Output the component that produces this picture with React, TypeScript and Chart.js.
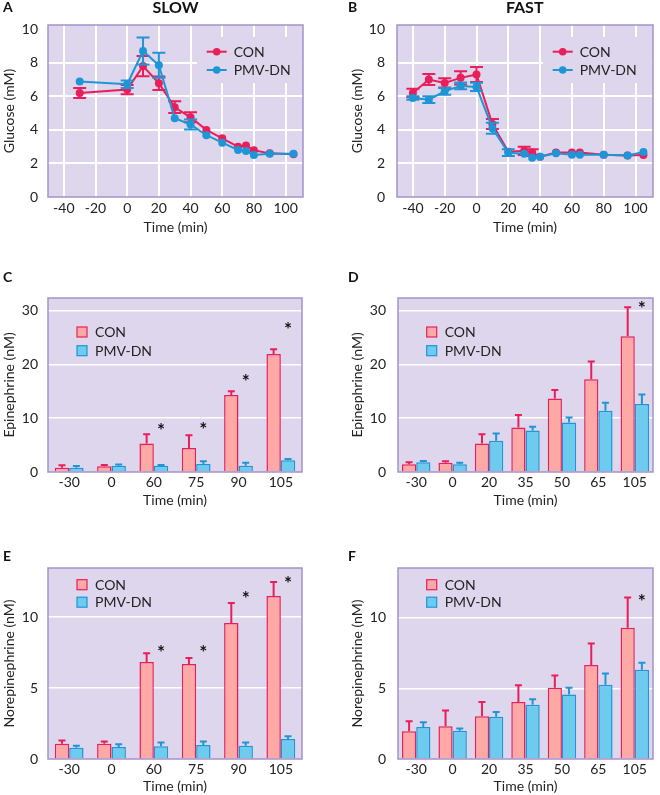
import React, { useEffect, useRef } from 'react';
import { Chart, registerables } from 'chart.js';
Chart.register(...registerables);

// ---------------- DATA ----------------
const slowGlucoseTimes = [-30, 0, 10, 20, 30, 40, 50, 60, 70, 75, 80, 90, 105];
const slowGlucoseCon = [6.2, 6.4, 7.8, 6.78, 5.35, 4.75, 4.0, 3.5, 3.0, 3.07, 2.78, 2.6, 2.55];
const slowGlucoseConErr = [0.3, 0.27, 0.6, 0.4, 0.35, 0.3, 0, 0, 0, 0, 0, 0, 0];
const slowGlucosePmv = [6.88, 6.72, 8.7, 7.85, 4.7, 4.32, 3.68, 3.24, 2.8, 2.74, 2.5, 2.58, 2.58];
const slowGlucosePmvErr = [0, 0.22, 0.8, 0.75, 0, 0.3, 0, 0, 0, 0, 0, 0, 0];

const fastGlucoseTimes = [-40, -30, -20, -10, 0, 10, 20, 30, 35, 40, 50, 60, 65, 80, 95, 105];
const fastGlucoseCon = [6.2, 7.0, 6.8, 7.1, 7.3, 4.35, 2.7, 2.75, 2.65, 2.4, 2.65, 2.65, 2.65, 2.52, 2.48, 2.5];
const fastGlucoseConErr = [0.25, 0.33, 0.27, 0.4, 0.45, 0.3, 0, 0.25, 0.2, 0, 0, 0, 0, 0, 0, 0];
const fastGlucosePmv = [5.9, 5.8, 6.3, 6.62, 6.56, 4.1, 2.64, 2.58, 2.34, 2.4, 2.6, 2.52, 2.52, 2.52, 2.48, 2.68];
const fastGlucosePmvErr = [0.1, 0.2, 0.2, 0.2, 0.25, 0.33, 0.2, 0, 0, 0, 0, 0, 0, 0, 0, 0];

const glucoseTicks = [0, 2, 4, 6, 8, 10];
const timeTicks = [-40, -20, 0, 20, 40, 60, 80, 100];

const slowCats = ['-30', '0', '60', '75', '90', '105'];
const fastCats = ['-30', '0', '20', '35', '50', '65', '105'];

const epiSlowCon = [0.8, 1.06, 5.28, 4.47, 14.3, 21.9];
const epiSlowConErr = [0.44, 0.24, 1.72, 2.36, 0.7, 0.9];
const epiSlowPmv = [0.8, 1.18, 1.18, 1.5, 1.18, 2.17];
const epiSlowPmvErr = [0.3, 0.19, 0.12, 0.5, 0.56, 0.25];
const epiSlowStars = [null, null, 8.4, 8.6, 17.5, 27.3];

const epiFastCon = [1.43, 1.74, 5.28, 8.26, 13.66, 17.2, 25.2];
const epiFastConErr = [0.37, 0.26, 1.72, 2.3, 1.54, 3.3, 5.4];
const epiFastPmv = [1.8, 1.43, 5.78, 7.7, 9.2, 11.37, 12.6];
const epiFastPmvErr = [0.25, 0.31, 1.36, 0.7, 0.9, 1.49, 1.8];
const epiFastStars = [null, null, null, null, null, null, 31.1];

const norSlowCon = [1.08, 1.08, 6.83, 6.69, 9.58, 11.48];
const norSlowConErr = [0.23, 0.16, 0.61, 0.42, 1.41, 0.98];
const norSlowPmv = [0.8, 0.85, 0.89, 0.99, 0.94, 1.41];
const norSlowPmvErr = [0.14, 0.18, 0.28, 0.25, 0.23, 0.19];
const norSlowStars = [null, null, 7.82, 7.82, 11.57, 12.68];

const norFastCon = [1.96, 2.32, 3.03, 4.02, 5.04, 6.64, 9.27];
const norFastConErr = [0.71, 1.11, 0.99, 1.2, 0.87, 1.52, 2.15];
const norFastPmv = [2.27, 1.99, 2.98, 3.83, 4.56, 5.25, 6.31];
const norFastPmvErr = [0.33, 0.16, 0.35, 0.4, 0.48, 0.8, 0.5];
const norFastStars = [null, null, null, null, null, null, 11.42];

const epiTicks = [0, 10, 20, 30];
const norTicks = [0, 5, 10];

// ---------------- STYLE ----------------
const TEXT = '#222222';
const RED = '#e91e5a';
const BLUE = '#1e96d6';
const RED_FILL = '#fea9a6';
const BLUE_FILL = '#6ccbef';
const PLOT_BG = '#ddd6ec';
const FRAME = '#a592c8';
const FAMILY = 'Lato, "Noto Sans", sans-serif';
const FS = 14;

Chart.defaults.font.family = FAMILY;

function framePlugin() {
  return {
    id: 'frame',
    beforeDraw(chart: any) {
      const { ctx, chartArea: a } = chart;
      ctx.save();
      ctx.fillStyle = PLOT_BG;
      ctx.fillRect(a.left, a.top, a.right - a.left, a.bottom - a.top);
      ctx.restore();
    },
    afterDraw(chart: any) {
      const { ctx, chartArea: a } = chart;
      ctx.save();
      ctx.strokeStyle = FRAME;
      ctx.lineWidth = 1.5;
      ctx.strokeRect(a.left, a.top, a.right - a.left, a.bottom - a.top);
      ctx.restore();
    },
  };
}

function errorBarPlugin() {
  return {
    id: 'errorBars',
    afterDatasetDraw(chart: any, args: any) {
      const ds: any = chart.data.datasets[args.index];
      if (!ds.errors) return;
      const meta = args.meta;
      const yScale = chart.scales[meta.yAxisID];
      const ctx = chart.ctx;
      ctx.save();
      ctx.strokeStyle = ds.borderColor;
      ctx.lineWidth = 2;
      meta.data.forEach((el: any, i: number) => {
        const e = ds.errors[i];
        if (!e) return;
        const v = ds.means[i];
        const x = el.x;
        const yTop = yScale.getPixelForValue(v + e);
        const yBot = ds.twoSided ? yScale.getPixelForValue(v - e) : el.y;
        const hw = ds.capHalf;
        ctx.beginPath();
        ctx.moveTo(x, yBot);
        ctx.lineTo(x, yTop);
        ctx.moveTo(x - hw, yTop);
        ctx.lineTo(x + hw, yTop);
        if (ds.twoSided) {
          ctx.moveTo(x - hw, yBot);
          ctx.lineTo(x + hw, yBot);
        }
        ctx.stroke();
      });
      ctx.restore();
    },
  };
}

function starPlugin(stars: (number | null)[]) {
  return {
    id: 'stars',
    afterDatasetsDraw(chart: any) {
      const meta = chart.getDatasetMeta(1);
      const yScale = chart.scales.y;
      const ctx = chart.ctx;
      ctx.save();
      ctx.fillStyle = '#111';
      ctx.font = `bold 19px ${FAMILY}`;
      ctx.textAlign = 'center';
      ctx.textBaseline = 'middle';
      stars.forEach((s, i) => {
        if (s == null) return;
        const el = meta.data[i];
        ctx.fillText('*', el.x, yScale.getPixelForValue(s) + 4.5);
      });
      ctx.restore();
    },
  };
}

function legendPlugin(kind: 'line' | 'box', dx: number, dy: number, row: number, bg?: number[]) {
  return {
    id: 'panelLegend',
    beforeDatasetsDraw(chart: any) {
      if (!bg) return;
      const { ctx, chartArea: a } = chart;
      ctx.save();
      ctx.fillStyle = PLOT_BG;
      ctx.fillRect(a.left + bg[0], a.top + bg[1], a.right - (a.left + bg[0]) - 1, bg[2]);
      ctx.restore();
    },
    afterDatasetsDraw(chart: any) {
      const { ctx, chartArea: a } = chart;
      ctx.save();
      ctx.font = `${FS}px ${FAMILY}`;
      ctx.textBaseline = 'middle';
      ctx.textAlign = 'left';
      chart.data.datasets.forEach((ds: any, i: number) => {
        const x0 = a.left + dx;
        const y = a.top + dy + i * row;
        if (kind === 'line') {
          ctx.strokeStyle = ds.borderColor;
          ctx.lineWidth = 2;
          ctx.beginPath();
          ctx.moveTo(x0, y);
          ctx.lineTo(x0 + 20, y);
          ctx.stroke();
          ctx.fillStyle = ds.borderColor;
          ctx.beginPath();
          ctx.arc(x0 + 10, y, 3.8, 0, Math.PI * 2);
          ctx.fill();
          ctx.fillStyle = TEXT;
          ctx.fillText(ds.label, x0 + 27, y + 0.5);
        } else {
          ctx.fillStyle = ds.backgroundColor;
          ctx.fillRect(x0, y - 5, 10, 10);
          ctx.strokeStyle = ds.borderColor;
          ctx.lineWidth = 1.2;
          ctx.strokeRect(x0, y - 5, 10, 10);
          ctx.fillStyle = TEXT;
          ctx.fillText(ds.label, x0 + 18, y + 0.5);
        }
      });
      ctx.restore();
    },
  };
}

type Box = {
  yW: number; xH: number; padTop: number; padRight: number;
  yTitlePad: number; yTickPad: number; xTitlePad: number; xTickPad: number;
};

function scalesFor(box: Box, yTitle: string, yMax: number, yTicks: number[], lineGrid: boolean) {
  const tickFont = { size: FS, family: FAMILY };
  const yGrid = {
    drawTicks: false,
    lineWidth: lineGrid ? 2 : 1.5,
    color: (c: any) => (c.tick && c.tick.value > 0 && c.tick.value < (lineGrid ? 9.9 : yMax) ? '#ffffff' : 'rgba(0,0,0,0)'),
  };
  return {
    y: {
      min: 0,
      max: yMax,
      afterBuildTicks: (axis: any) => { axis.ticks = yTicks.map((v) => ({ value: v })); },
      afterFit: (s: any) => { s.width = box.yW; },
      grid: yGrid,
      border: { display: false },
      ticks: { font: tickFont, color: TEXT, padding: box.yTickPad },
      title: {
        display: true, text: yTitle, color: TEXT,
        font: { size: FS, family: FAMILY }, padding: { top: box.yTitlePad, bottom: 0 },
      },
    },
  };
}

function lineConfig(times: number[], con: number[], conErr: number[], pmv: number[], pmvErr: number[],
  box: Box, legend: any) {
  const s: any = scalesFor(box, 'Glucose (mM)', 10.25, glucoseTicks, true);
  s.x = {
    type: 'linear',
    min: -50,
    max: 111,
    afterBuildTicks: (axis: any) => { axis.ticks = timeTicks.map((v) => ({ value: v })); },
    afterFit: (sc: any) => { sc.height = box.xH; },
    grid: { drawTicks: false, lineWidth: 2, color: '#ffffff' },
    border: { display: false },
    ticks: { font: { size: FS, family: FAMILY }, color: TEXT, padding: box.xTickPad, maxRotation: 0 },
    title: {
      display: true, text: 'Time (min)', color: TEXT,
      font: { size: FS, family: FAMILY }, padding: { top: 0, bottom: box.xTitlePad },
    },
  };
  const mk = (label: string, vals: number[], errs: number[], color: string, order: number) => ({
    label,
    data: times.map((t, i) => ({ x: t, y: vals[i] })),
    means: vals,
    errors: errs,
    twoSided: true,
    capHalf: 6.5,
    borderColor: color,
    backgroundColor: color,
    borderWidth: 2,
    pointRadius: 4,
    pointBorderWidth: 0,
    pointBackgroundColor: color,
    tension: 0,
    order,
  });
  return {
    type: 'line',
    data: {
      datasets: [
        mk('CON', con, conErr, RED, 2),
        mk('PMV-DN', pmv, pmvErr, BLUE, 1),
      ],
    },
    options: {
      responsive: false,
      animation: false,
      events: [],
      layout: { padding: { top: box.padTop, right: box.padRight, bottom: 0, left: 0 } },
      plugins: { legend: { display: false }, tooltip: { enabled: false }, title: { display: false } },
      scales: s,
    },
    plugins: [framePlugin(), errorBarPlugin(), legend],
  };
}

function barConfig(cats: string[], con: number[], conErr: number[], pmv: number[], pmvErr: number[],
  stars: (number | null)[], yTitle: string, yMax: number, yTicks: number[], catPct: number, box: Box, legend: any) {
  const s: any = scalesFor(box, yTitle, yMax, yTicks, false);
  s.x = {
    type: 'category',
    offset: true,
    afterFit: (sc: any) => { sc.height = box.xH; },
    grid: { display: false, drawTicks: false },
    border: { display: false },
    ticks: { font: { size: FS, family: FAMILY }, color: TEXT, padding: box.xTickPad, maxRotation: 0, autoSkip: false },
    title: {
      display: true, text: 'Time (min)', color: TEXT,
      font: { size: FS, family: FAMILY }, padding: { top: 0, bottom: box.xTitlePad },
    },
  };
  const mk = (label: string, vals: number[], errs: number[], color: string, fill: string) => ({
    label,
    data: vals,
    means: vals,
    errors: errs,
    twoSided: false,
    capHalf: 3.5,
    borderColor: color,
    backgroundColor: fill,
    borderWidth: 1.5,
    categoryPercentage: catPct,
    barPercentage: 1,
  });
  return {
    type: 'bar',
    data: {
      labels: cats,
      datasets: [
        mk('CON', con, conErr, RED, RED_FILL),
        mk('PMV-DN', pmv, pmvErr, BLUE, BLUE_FILL),
      ],
    },
    options: {
      responsive: false,
      animation: false,
      events: [],
      layout: { padding: { top: box.padTop, right: box.padRight, bottom: 0, left: 0 } },
      plugins: { legend: { display: false }, tooltip: { enabled: false }, title: { display: false } },
      scales: s,
    },
    plugins: [framePlugin(), errorBarPlugin(), starPlugin(stars), legend],
  };
}

const boxA: Box = { yW: 48, xH: 48, padTop: 25, padRight: 27, yTitlePad: 0.8, yTickPad: 10, xTitlePad: 9.6, xTickPad: 3 };
const boxB: Box = { yW: 67, xH: 48, padTop: 25, padRight: 7, yTitlePad: 18.6, yTickPad: 12, xTitlePad: 9.6, xTickPad: 3 };
const boxC: Box = { yW: 48, xH: 48, padTop: 53, padRight: 28, yTitlePad: 0.8, yTickPad: 10, xTitlePad: 11.6, xTickPad: 2 };
const boxD: Box = { yW: 68, xH: 48, padTop: 53, padRight: 7, yTitlePad: 19.1, yTickPad: 12, xTitlePad: 11.6, xTickPad: 2 };
const boxE: Box = { yW: 48, xH: 36, padTop: 48, padRight: 28, yTitlePad: 0.8, yTickPad: 10, xTitlePad: 0, xTickPad: 2 };
const boxF: Box = { yW: 68, xH: 36, padTop: 48, padRight: 7, yTitlePad: 19.1, yTickPad: 12, xTitlePad: 0, xTickPad: 2 };

function Panel({ make, left, top, width, height }: any) {
  const ref = useRef<HTMLCanvasElement>(null);
  useEffect(() => {
    const chart = new Chart(ref.current as HTMLCanvasElement, make());
    return () => chart.destroy();
  }, []);
  return (
    <canvas ref={ref} width={width} height={height}
      style={{ position: 'absolute', left, top, width, height, display: 'block' }} />
  );
}

const letterStyle = (left: number, top: number): React.CSSProperties => ({
  position: 'absolute', left, top, fontFamily: FAMILY, fontWeight: 700, fontSize: 14,
  lineHeight: '14px', color: '#111',
});
const titleStyle = (center: number): React.CSSProperties => ({
  position: 'absolute', left: center - 100, top: -1, width: 200, textAlign: 'center',
  fontFamily: FAMILY, fontWeight: 700, fontSize: 16, lineHeight: '16px', color: '#111',
});

export default function App() {
  return (
    <div style={{ position: 'absolute', left: 0, top: 0, width: 660, height: 795, background: '#fff', overflow: 'hidden' }}>
      <Panel left={0} top={0} width={330} height={245}
        make={() => lineConfig(slowGlucoseTimes, slowGlucoseCon, slowGlucoseConErr, slowGlucosePmv, slowGlucosePmvErr,
          boxA, legendPlugin('line', 158.7, 26.7, 18.3, [149, 12, 46]))} />
      <Panel left={330} top={0} width={330} height={245}
        make={() => lineConfig(fastGlucoseTimes, fastGlucoseCon, fastGlucoseConErr, fastGlucosePmv, fastGlucosePmvErr,
          boxB, legendPlugin('line', 155.7, 26.7, 18.3, [146, 12, 46]))} />
      <Panel left={0} top={245} width={330} height={275}
        make={() => barConfig(slowCats, epiSlowCon, epiSlowConErr, epiSlowPmv, epiSlowPmvErr, epiSlowStars,
          'Epinephrine (nM)', 32.3, epiTicks, 0.68, boxC, legendPlugin('box', 29, 34, 18.7))} />
      <Panel left={330} top={245} width={330} height={275}
        make={() => barConfig(fastCats, epiFastCon, epiFastConErr, epiFastPmv, epiFastPmvErr, epiFastStars,
          'Epinephrine (nM)', 32.3, epiTicks, 0.78, boxD, legendPlugin('box', 28.7, 34, 18.7))} />
      <Panel left={0} top={520} width={330} height={275}
        make={() => barConfig(slowCats, norSlowCon, norSlowConErr, norSlowPmv, norSlowPmvErr, norSlowStars,
          'Norepinephrine (nM)', 13.45, norTicks, 0.68, boxE, legendPlugin('box', 29, 16.7, 17.5))} />
      <Panel left={330} top={520} width={330} height={275}
        make={() => barConfig(fastCats, norFastCon, norFastConErr, norFastPmv, norFastPmvErr, norFastStars,
          'Norepinephrine (nM)', 13.5, norTicks, 0.78, boxF, legendPlugin('box', 28.7, 16.7, 17.5))} />

      <div style={letterStyle(3, 0)}>A</div>
      <div style={letterStyle(348, 0)}>B</div>
      <div style={letterStyle(3, 270)}>C</div>
      <div style={letterStyle(348, 270)}>D</div>
      <div style={letterStyle(3, 549)}>E</div>
      <div style={letterStyle(348, 549)}>F</div>
      <div style={titleStyle(175.5)}>SLOW</div>
      <div style={titleStyle(524.7)}>FAST</div>
    </div>
  );
}
